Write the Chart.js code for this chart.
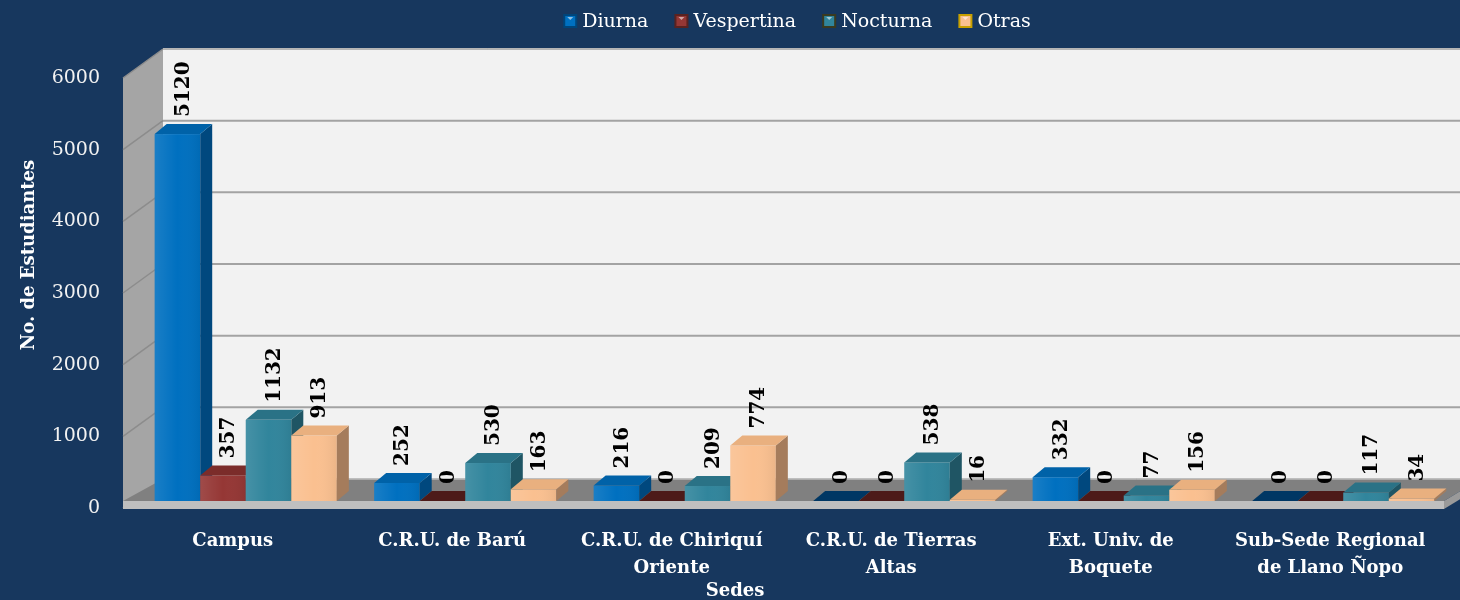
<!DOCTYPE html>
<html lang="es">
<head>
<meta charset="UTF-8" />
<title>Estudiantes por Sede</title>
<script src="https://cdn.jsdelivr.net/npm/chart.js"></script>
<style>
  html, body { margin: 0; padding: 0; background: #17375e; }
  #wrap { width: 1460px; height: 600px; }
</style>
</head>
<body>
<div id="wrap"><canvas id="chart"></canvas></div>
<script>
  // data
  const categories = [
    ['Campus'],
    ['C.R.U. de Barú'],
    ['C.R.U. de Chiriquí', 'Oriente'],
    ['C.R.U. de Tierras', 'Altas'],
    ['Ext. Univ. de', 'Boquete'],
    ['Sub-Sede Regional', 'de Llano Ñopo']
  ];
  const seriesNames = ['Diurna', 'Vespertina', 'Nocturna', 'Otras'];
  const diurna     = [5120, 252, 216, 0, 332, 0];
  const vespertina = [357, 0, 0, 0, 0, 0];
  const nocturna   = [1132, 530, 209, 538, 77, 117];
  const otras      = [913, 163, 774, 16, 156, 34];
  const yMax = 6000;
  const yStep = 1000;

  // face colours of the 3d boxes (front / side / top / flat when zero)
  const faces = [
    { front: '#0070c0', side: '#00487e', top: '#0062a8', flat: '#003764', edge: '#00457a' },
    { front: '#953735', side: '#632523', top: '#7b2c2a', flat: '#4d1a19', edge: '#5a2220' },
    { front: '#31859c', side: '#1f5564', top: '#2a7286', flat: '#215c6c', edge: '#3a3a20' },
    { front: '#fac090', side: '#a57c5c', top: '#e9b07f', flat: '#d9a070', edge: '#c8a000' }
  ];

  const FONT = "'DejaVu Serif', serif";
  const WALL = { dx: 40, dy: -29 };   // depth of the walls
  const BAR = { ox: 13, oy: -7, dx: 12, dy: -10 };  // bar plane offset + bar depth

  function poly(ctx, pts, fill) {
    ctx.beginPath();
    ctx.moveTo(pts[0][0], pts[0][1]);
    for (let i = 1; i < pts.length; i++) ctx.lineTo(pts[i][0], pts[i][1]);
    ctx.closePath();
    ctx.fillStyle = fill;
    ctx.fill();
  }

  const scene3d = {
    id: 'scene3d',
    beforeDatasetsDraw(chart) {
      const { ctx, chartArea: a, scales: { y } } = chart;
      const L = a.left, R = a.right, y0 = y.getPixelForValue(0), yT = y.getPixelForValue(yMax);
      const dx = WALL.dx, dy = WALL.dy;
      ctx.save();
      // back wall
      ctx.fillStyle = '#f2f2f2';
      ctx.fillRect(L + dx, yT + dy, R - L + 40, y0 - yT);
      // left wall
      poly(ctx, [[L, yT], [L + dx, yT + dy], [L + dx, y0 + dy], [L, y0]], '#a5a5a5');
      // gridlines on both walls
      for (let v = 0; v <= yMax; v += yStep) {
        const py = y.getPixelForValue(v);
        ctx.strokeStyle = '#8c8c8c';
        ctx.lineWidth = 1.5;
        ctx.beginPath(); ctx.moveTo(L, py); ctx.lineTo(L + dx, py + dy); ctx.stroke();
        ctx.strokeStyle = '#a3a3a3';
        ctx.lineWidth = 2;
        ctx.beginPath(); ctx.moveTo(L + dx, py + dy); ctx.lineTo(R + dx + 40, py + dy); ctx.stroke();
      }
      ctx.strokeStyle = '#c8c8c8';
      ctx.lineWidth = 1;
      ctx.beginPath(); ctx.moveTo(L + dx, yT + dy); ctx.lineTo(R + dx + 40, yT + dy); ctx.stroke();
      // floor slab
      const fTop = y0 + BAR.oy;
      poly(ctx, [[L, fTop], [L + dx, y0 + dy], [R + dx, y0 + dy], [R + 4, fTop]], '#808080');
      poly(ctx, [[L, fTop], [R + 4, fTop], [R + 4, y0 + 1], [L, y0 + 1]], '#bfbfbf');
      poly(ctx, [[R + 4, fTop], [R + dx, y0 + dy], [R + dx, y0 + dy + 8], [R + 4, y0 + 1]], '#9a9a9a');
      ctx.strokeStyle = '#d9d9d9';
      ctx.lineWidth = 1;
      ctx.beginPath(); ctx.moveTo(L + dx, y0 + dy); ctx.lineTo(R + dx, y0 + dy); ctx.stroke();
      ctx.restore();
    },
    afterDatasetsDraw(chart) {
      const { ctx } = chart;
      const metas = chart.data.datasets.map((d, i) => chart.getDatasetMeta(i));
      ctx.save();
      const labels = [];
      for (let c = 0; c < categories.length; c++) {
        metas.forEach((meta, s) => {
          const el = meta.data[c];
          const f = faces[s];
          const x0 = el.x - el.width / 2 + BAR.ox, x1 = el.x + el.width / 2 + BAR.ox;
          const yTop = Math.min(el.y, el.base) + BAR.oy, yBase = el.base + BAR.oy;
          const dx = BAR.dx, dy = BAR.dy;
          if (yBase - yTop > 1) {
            ctx.fillStyle = f.front;
            ctx.fillRect(x0, yTop, x1 - x0, yBase - yTop);
            const g = ctx.createLinearGradient(x0, 0, x1, 0);
            g.addColorStop(0, 'rgba(255,255,255,0.10)');
            g.addColorStop(0.5, 'rgba(255,255,255,0)');
            g.addColorStop(1, 'rgba(0,0,0,0.06)');
            ctx.fillStyle = g;
            ctx.fillRect(x0, yTop, x1 - x0, yBase - yTop);
            poly(ctx, [[x1, yTop], [x1 + dx, yTop + dy], [x1 + dx, yBase + dy], [x1, yBase]], f.side);
            poly(ctx, [[x0, yTop], [x0 + dx, yTop + dy], [x1 + dx, yTop + dy], [x1, yTop]], f.top);
          } else {
            poly(ctx, [[x0, yBase], [x0 + dx, yBase + dy], [x1 + dx, yBase + dy], [x1, yBase]], f.flat);
          }
          const value = chart.data.datasets[s].data[c];
          labels.push({ x: (x0 + x1) / 2 + dx / 2, y: yTop + dy - 7, t: String(value) });
        });
      }
      ctx.fillStyle = '#000';
      ctx.font = "bold 20px " + FONT;
      ctx.textAlign = 'left';
      ctx.textBaseline = 'middle';
      labels.forEach(l => {
        ctx.save();
        ctx.translate(l.x, l.y);
        ctx.rotate(-Math.PI / 2);
        ctx.fillText(l.t, 0, 0);
        ctx.restore();
      });
      ctx.restore();
    },
    afterDraw(chart) {
      const { ctx } = chart;
      ctx.save();
      // legend
      ctx.font = "19px " + FONT;
      ctx.textBaseline = 'middle';
      ctx.textAlign = 'left';
      const box = 14, gapIn = 5, gapOut = 26;
      const widths = seriesNames.map(n => box + gapIn + ctx.measureText(n).width);
      const total = widths.reduce((a, b) => a + b, 0) + gapOut * (seriesNames.length - 1);
      let x = 797 - total / 2;
      const ly = 21;
      seriesNames.forEach((n, i) => {
        const f = faces[i];
        ctx.fillStyle = f.edge;
        ctx.fillRect(x, ly - 7, box, box);
        ctx.fillStyle = f.front;
        ctx.fillRect(x + 2, ly - 5, box - 4, box - 4);
        poly(ctx, [[x + 4, ly - 4], [x + box - 4, ly - 4], [x + box / 2, ly - 1]], 'rgba(255,255,255,0.55)');
        ctx.fillStyle = '#ffffff';
        ctx.fillText(n, x + box + gapIn, ly + 1);
        x += widths[i] + gapOut;
      });
      // axis titles
      ctx.font = "bold 18px " + FONT;
      ctx.fillStyle = '#ffffff';
      ctx.textAlign = 'center';
      ctx.save();
      ctx.translate(29, 255);
      ctx.rotate(-Math.PI / 2);
      ctx.fillText('No. de Estudiantes', 0, 0);
      ctx.restore();
      ctx.fillText('Sedes', 735, 591);
      ctx.restore();
    }
  };

  const datasets = [diurna, vespertina, nocturna, otras].map((d, i) => ({
    label: seriesNames[i],
    data: d,
    backgroundColor: 'rgba(0,0,0,0)',
    borderWidth: 0
  }));

  new Chart(document.getElementById('chart'), {
    type: 'bar',
    data: { labels: categories, datasets },
    options: {
      responsive: true,
      maintainAspectRatio: false,
      animation: false,
      events: [],
      layout: { padding: { top: 78, right: 20, left: 0, bottom: 0 } },
      datasets: { bar: { categoryPercentage: 0.83, barPercentage: 1 } },
      plugins: { legend: { display: false }, tooltip: { enabled: false } },
      scales: {
        x: {
          grid: { display: false, drawTicks: false },
          border: { display: false },
          ticks: {
            color: '#ffffff',
            padding: 20,
            maxRotation: 0,
            autoSkip: false,
            font: { family: FONT, size: 18, weight: 'bold', lineHeight: 1.5 }
          },
          afterFit(s) { s.height = 92; }
        },
        y: {
          min: 0,
          max: yMax,
          grid: { display: false, drawTicks: false },
          border: { display: false },
          ticks: {
            stepSize: yStep,
            color: '#f2f2f2',
            padding: 23,
            font: { family: FONT, size: 19 },
            callback: v => String(v)
          },
          afterFit(s) { s.width = 123; }
        }
      }
    },
    plugins: [scene3d]
  });
</script>
</body>
</html>
